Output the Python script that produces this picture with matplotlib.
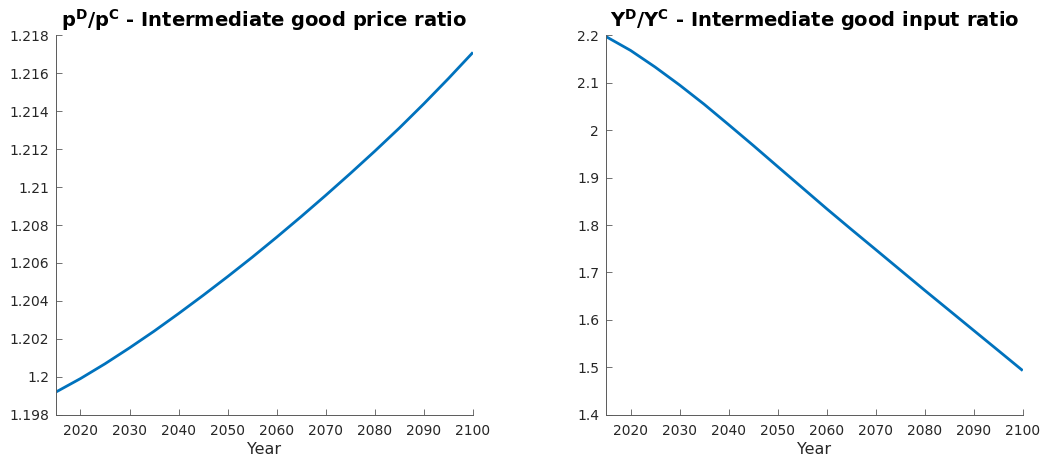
import matplotlib
matplotlib.use("Agg")
import matplotlib.pyplot as plt
from matplotlib.ticker import FixedLocator

plt.rcParams['font.family'] = ['DejaVu Sans']
plt.rcParams['mathtext.fontset'] = 'dejavusans'

years = [2015, 2020, 2025, 2030, 2035, 2040, 2045, 2050, 2055, 2060,
         2065, 2070, 2075, 2080, 2085, 2090, 2095, 2100]

# Intermediate good price ratio p^D / p^C
price_ratio = [1.19919, 1.19990, 1.20068, 1.20152, 1.20240, 1.20333, 1.20429,
               1.20528, 1.20630, 1.20736, 1.20845, 1.20957, 1.21072, 1.21190,
               1.21312, 1.21440, 1.21573, 1.21711]

# Intermediate good input ratio Y^D / Y^C
input_ratio = [2.1977, 2.1685, 2.1335, 2.0955, 2.0550, 2.0119, 1.9682,
               1.9235, 1.8790, 1.8345, 1.7911, 1.7483, 1.7053, 1.6623,
               1.6200, 1.5776, 1.5353, 1.4928]

x_ticks = [2020, 2030, 2040, 2050, 2060, 2070, 2080, 2090, 2100]
price_ticks = [1.198, 1.2, 1.202, 1.204, 1.206, 1.208, 1.21, 1.212, 1.214, 1.216, 1.218]
price_labels = ['1.198', '1.2', '1.202', '1.204', '1.206', '1.208', '1.21',
                '1.212', '1.214', '1.216', '1.218']
input_ticks = [1.4, 1.5, 1.6, 1.7, 1.8, 1.9, 2.0, 2.1, 2.2]
input_labels = ['1.4', '1.5', '1.6', '1.7', '1.8', '1.9', '2', '2.1', '2.2']

titles = [r'$\mathbf{p^D/p^C}$ - Intermediate good price ratio',
          r'$\mathbf{Y^D/Y^C}$ - Intermediate good input ratio']

LINE = '#0072BD'
AXC = '#262626'

fig = plt.figure(figsize=(10.42, 4.58), dpi=100)
ax1 = fig.add_axes([0.0537, 0.0948, 0.4002, 0.8277])
ax2 = fig.add_axes([0.5816, 0.0948, 0.3999, 0.8277])

panels = [
    (ax1, price_ratio, (1.198, 1.218), price_ticks, price_labels, titles[0]),
    (ax2, input_ratio, (1.4, 2.2), input_ticks, input_labels, titles[1]),
]

for ax, series, ylim, yt, yl, title in panels:
    ax.plot(years, series, color=LINE, lw=2.0, solid_capstyle='butt',
            solid_joinstyle='round')
    ax.set_xlim(2015, 2100)
    ax.set_ylim(*ylim)
    ax.xaxis.set_major_locator(FixedLocator(x_ticks))
    ax.set_xticklabels([str(t) for t in x_ticks])
    ax.set_yticks(yt)
    ax.set_yticklabels(yl)
    for side in ('top', 'right'):
        ax.spines[side].set_visible(False)
    for side in ('left', 'bottom'):
        ax.spines[side].set_color('#5a5a5a')
        ax.spines[side].set_linewidth(0.7)
    ax.tick_params(direction='in', length=4, width=0.6, color='#5a5a5a',
                   labelsize=10, labelcolor=AXC, pad=5)
    ax.tick_params(axis='x', pad=6.5)
    ax.set_xlabel('Year', fontsize=11.5, color=AXC, labelpad=3)
    ax.set_title(title, fontsize=14, fontweight='bold', color='black', pad=6)

fig.savefig('out.png', dpi=100, facecolor='white')
